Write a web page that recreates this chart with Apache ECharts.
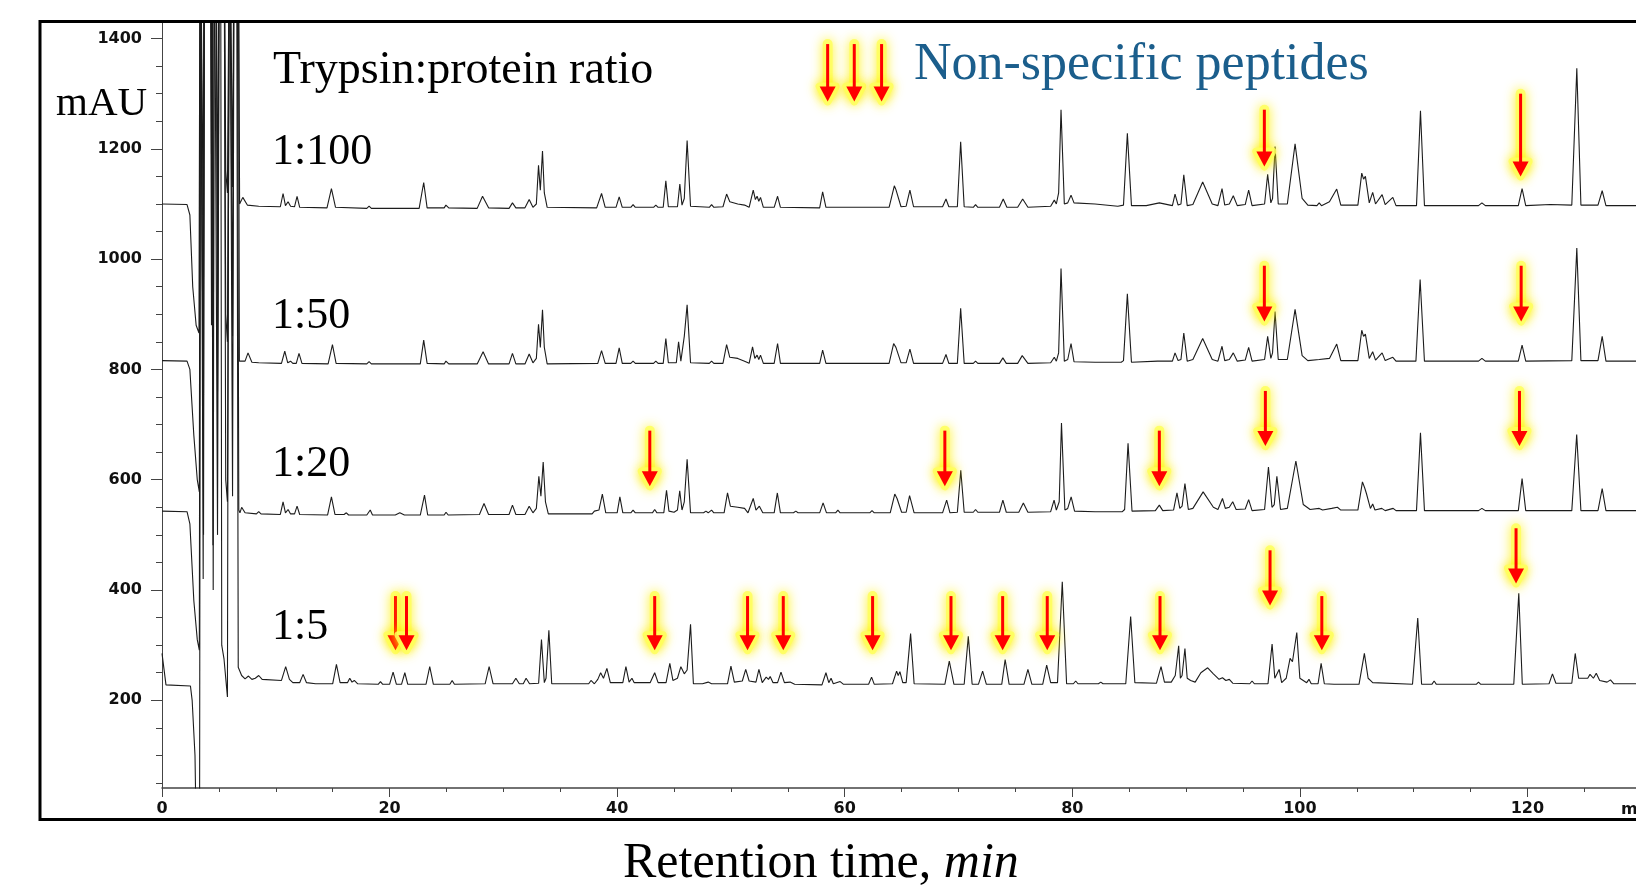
<!DOCTYPE html>
<html><head><meta charset="utf-8">
<script src="https://cdn.jsdelivr.net/npm/echarts@6/dist/echarts.min.js"></script>
<style>html,body{margin:0;padding:0;background:#fff;}#c{width:1636px;height:895px;}</style>
</head><body><div id="c"></div>
<script>
// ---------- data ----------
const seriesNames = ['1:100', '1:50', '1:20', '1:5'];
const yTickValues = [200, 400, 600, 800, 1000, 1200, 1400];
const yMinorTickValues = [50,100,150,200,250,300,350,400,450,500,550,600,650,700,750,800,850,900,950,1000,1050,1100,1150,1200,1250,1300,1350,1400];

const trace1to100 = [[0,1100],[2.2,1099],[2.45,1080],[2.7,950],[3.0,880],[3.25,866],[3.35,1700],[3.5,1700],[3.62,1080],[3.72,1700],[4.25,1700],[4.35,1190],[4.45,1700],[4.75,1700],[4.88,1050],[5.05,1700],[5.45,1700],[5.6,1160],[5.75,1120],[5.95,1700],[6.1,1700],[6.2,1131],[6.35,1700],[6.7,1700],[6.82,1100],[7.1,1112],[7.5,1098],[8.5,1096],[10.4,1095],[10.64,1119],[10.85,1097],[11.08,1104],[11.3,1096],[11.65,1095],[11.87,1114],[12.1,1094],[14.5,1093],[14.89,1128],[15.25,1094],[18.0,1092],[18.2,1096],[18.4,1092],[22.6,1092],[23.0,1139],[23.3,1093],[24.8,1093],[24.95,1098],[25.2,1093],[27.7,1092],[28.17,1114],[28.7,1093],[30.5,1092],[30.8,1102],[31.1,1093],[31.9,1093],[32.27,1108],[32.6,1094],[32.9,1100],[33.09,1170],[33.25,1125],[33.44,1196],[33.6,1120],[33.85,1094],[38.2,1093],[38.63,1119],[38.95,1094],[39.9,1094],[40.18,1113],[40.45,1094],[41.2,1094],[41.4,1099],[41.6,1094],[43.2,1094],[43.4,1098],[43.6,1094],[44.05,1094],[44.28,1142],[44.5,1095],[45.3,1095],[45.51,1136],[45.7,1098],[45.9,1110],[46.15,1215],[46.45,1096],[48.1,1094],[48.3,1099],[48.5,1094],[49.3,1095],[49.62,1118],[49.9,1104],[50.6,1100],[51.2,1098],[51.6,1094],[51.96,1125],[52.15,1108],[52.3,1114],[52.45,1105],[52.6,1112],[52.85,1094],[53.8,1094],[54.1,1114],[54.35,1094],[57.8,1093],[58.06,1122],[58.35,1094],[63.9,1094],[64.36,1133],[64.5,1126],[64.62,1128],[64.95,1095],[65.4,1096],[65.73,1125],[66.05,1095],[68.6,1095],[68.9,1109],[69.15,1095],[69.9,1095],[70.19,1213],[70.5,1095],[71.3,1094],[71.5,1099],[71.7,1094],[73.6,1094],[73.93,1109],[74.25,1094],[75.2,1094],[75.64,1109],[76.1,1094],[78.1,1096],[78.42,1107],[78.6,1100],[78.8,1120],[79.01,1271],[79.3,1100],[79.6,1102],[79.89,1116],[80.15,1102],[82.0,1100],[84.0,1096],[84.5,1098],[84.84,1228],[85.2,1097],[86.5,1097],[87.65,1102],[88.8,1097],[89.03,1118],[89.3,1098],[89.55,1100],[89.8,1153],[90.1,1097],[90.6,1099],[91.46,1140],[92.3,1100],[92.8,1097],[93.16,1128],[93.4,1098],[93.8,1100],[94.15,1115],[94.5,1097],[95.2,1099],[95.5,1125],[95.8,1097],[96.9,1100],[97.17,1154],[97.45,1102],[97.6,1110],[97.82,1204],[98.1,1100],[98.9,1100],[99.58,1209],[100.2,1110],[100.7,1098],[101.5,1097],[101.7,1102],[101.9,1097],[102.6,1104],[103.24,1127],[103.6,1098],[105.1,1098],[105.44,1156],[105.6,1145],[105.76,1150],[106.1,1102],[106.4,1121],[106.65,1100],[107.23,1117],[107.5,1099],[108.17,1112],[108.45,1097],[110.25,1097],[110.6,1269],[110.95,1097],[115.7,1097],[116.0,1102],[116.3,1097],[119.2,1097],[119.53,1128],[119.85,1097],[122.0,1099],[123.9,1098],[124.34,1346],[124.7,1098],[126.2,1098],[126.57,1124],[126.9,1097],[140,1097]];

const trace1to50 = [[0,816],[2.2,815],[2.45,800],[2.8,680],[3.1,600],[3.28,578],[3.38,1700],[3.5,1700],[3.62,700],[3.72,1700],[4.25,1700],[4.35,880],[4.45,1700],[4.75,1700],[4.88,760],[5.05,1700],[5.45,1700],[5.6,900],[5.75,850],[5.95,1700],[6.1,1700],[6.2,860],[6.35,1700],[6.7,1700],[6.8,815],[6.9,812],[7.3,815],[7.56,830],[7.9,813],[8.5,812],[10.5,811],[10.79,833],[11.05,812],[11.3,815],[11.5,811],[11.8,811],[12.04,829],[12.3,811],[14.6,810],[14.98,845],[15.3,811],[18.0,810],[18.2,814],[18.4,810],[22.7,810],[23.0,853],[23.3,811],[24.8,810],[24.95,815],[25.2,810],[27.7,810],[28.22,832],[28.7,810],[30.5,810],[30.8,829],[31.1,810],[31.9,810],[32.27,828],[32.6,812],[32.9,820],[33.09,882],[33.25,840],[33.44,908],[33.6,840],[33.85,810],[38.3,811],[38.63,834],[38.95,811],[39.9,811],[40.18,839],[40.45,811],[41.2,811],[41.4,815],[41.6,811],[43.2,811],[43.4,815],[43.6,811],[44.05,811],[44.28,856],[44.5,812],[45.2,812],[45.4,850],[45.6,815],[45.9,860],[46.15,917],[46.45,812],[48.1,811],[48.3,815],[48.5,811],[49.3,811],[49.62,845],[49.9,822],[50.6,820],[51.2,815],[51.6,811],[51.9,841],[52.1,820],[52.3,826],[52.45,818],[52.6,826],[52.85,811],[53.8,811],[54.1,847],[54.35,811],[57.8,811],[58.06,835],[58.35,811],[63.9,811],[64.3,847],[64.5,840],[64.62,842],[64.95,812],[65.4,812],[65.73,837],[66.05,811],[68.6,811],[68.9,827],[69.15,811],[69.9,811],[70.19,911],[70.5,811],[71.3,811],[71.5,815],[71.7,811],[73.6,811],[73.9,821],[74.2,811],[75.2,811],[75.6,825],[76.1,811],[78.1,812],[78.42,822],[78.6,815],[78.8,830],[79.01,983],[79.3,815],[79.6,818],[79.89,847],[80.15,814],[82,813],[84.3,813],[84.5,816],[84.84,937],[85.2,813],[87.5,815],[87.65,818],[87.8,815],[88.8,815],[89.03,830],[89.3,816],[89.55,818],[89.8,866],[90.1,815],[90.6,818],[91.46,856],[92.3,818],[92.8,815],[93.16,842],[93.4,816],[93.8,818],[94.15,830],[94.5,815],[95.2,817],[95.5,840],[95.8,815],[96.9,818],[97.17,860],[97.45,820],[97.6,830],[97.82,905],[98.1,818],[98.9,818],[99.58,909],[100.2,825],[100.7,816],[101.7,818],[102.6,820],[103.24,846],[103.6,816],[105.1,816],[105.44,871],[105.6,860],[105.76,864],[106.1,820],[106.4,832],[106.65,817],[107.23,830],[107.5,816],[108.17,822],[108.45,815],[110.2,815],[110.57,963],[110.95,815],[115.7,815],[116.0,820],[116.3,815],[119.2,815],[119.53,844],[119.85,815],[123.9,816],[124.34,1020],[124.7,816],[126.2,816],[126.57,860],[126.9,815],[140,815]];

const trace1to20 = [[0,543],[2.2,542],[2.45,520],[2.8,380],[3.1,310],[3.28,291],[3.38,1700],[3.5,1700],[3.62,420],[3.72,1700],[4.35,1700],[4.48,481],[4.6,1700],[4.75,1700],[4.88,500],[5.05,1700],[5.45,1700],[5.6,600],[5.75,560],[5.95,1700],[6.1,1700],[6.2,570],[6.35,1700],[6.6,1700],[6.75,545],[6.85,540],[7.0,550],[7.3,540],[8.3,538],[8.5,542],[8.7,538],[10.4,537],[10.64,560],[10.85,540],[11.08,546],[11.3,538],[11.65,538],[11.87,552],[12.1,537],[14.55,536],[14.89,569],[15.2,537],[16.0,537],[16.2,540],[16.4,536],[18.0,536],[18.3,545],[18.5,536],[20.5,536],[20.9,540],[21.3,536],[22.7,536],[23.07,572],[23.35,536],[24.8,536],[24.96,541],[25.15,536],[27.9,537],[28.3,557],[28.7,537],[30.5,537],[30.8,554],[31.1,537],[31.9,537],[32.27,552],[32.6,540],[32.9,548],[33.12,606],[33.3,570],[33.5,632],[33.7,560],[33.95,538],[37.8,538],[38.0,543],[38.4,545],[38.7,574],[39.0,540],[40.0,540],[40.24,569],[40.5,540],[41.2,540],[41.4,545],[41.6,540],[43.1,540],[43.3,546],[43.5,540],[44.1,540],[44.34,581],[44.55,543],[45.0,541],[45.3,545],[45.5,580],[45.7,545],[45.9,560],[46.15,637],[46.45,540],[47.6,540],[47.8,543],[48.0,540],[48.3,545],[48.5,540],[49.4,540],[49.7,576],[49.95,552],[50.6,550],[51.2,548],[51.5,540],[51.96,566],[52.2,545],[52.5,552],[52.8,540],[53.8,540],[54.08,576],[54.35,540],[55.5,540],[55.7,543],[55.9,540],[57.8,540],[58.1,558],[58.4,540],[59.2,540],[59.4,545],[59.6,540],[62.2,540],[62.4,544],[62.6,540],[64.0,540],[64.4,574],[64.6,566],[64.75,568],[65.0,541],[65.4,541],[65.7,571],[66.1,540],[68.6,540],[68.96,563],[69.25,540],[69.9,541],[70.2,617],[70.5,541],[71.3,541],[71.5,546],[71.7,541],[73.6,541],[73.9,563],[74.2,541],[75.3,541],[75.7,558],[76.1,541],[78.1,542],[78.4,563],[78.6,545],[78.85,560],[79.05,703],[79.35,545],[79.6,548],[79.9,569],[80.2,543],[82,542],[84.4,542],[84.6,546],[84.9,666],[85.25,543],[87.3,544],[87.65,554],[87.95,544],[88.9,545],[89.2,576],[89.45,548],[89.65,552],[89.9,593],[90.2,546],[90.6,548],[91.5,578],[92.4,550],[92.8,546],[93.2,566],[93.45,548],[93.8,550],[94.1,560],[94.4,546],[95.2,547],[95.5,564],[95.8,544],[96.9,546],[97.24,623],[97.55,550],[97.75,555],[97.98,606],[98.3,546],[98.9,548],[99.65,634],[100.3,555],[100.9,546],[101.7,548],[102.0,545],[102.8,548],[103.3,550],[103.6,545],[105.1,545],[105.5,596],[105.7,585],[105.85,575],[106.2,548],[106.4,556],[106.6,545],[107.2,548],[107.5,544],[108.2,548],[108.45,544],[110.25,544],[110.6,685],[110.95,544],[115.7,544],[116.0,548],[116.3,544],[119.2,544],[119.53,602],[119.85,544],[123.9,544],[124.33,682],[124.7,544],[126.2,544],[126.57,584],[126.9,544],[140,544]];

const trace1to5 = [[0,285],[0.35,228],[2.5,226],[2.65,200],[2.9,100],[3.05,-100],[3.3,-100],[3.4,1700],[3.55,1700],[3.65,500],[3.75,1700],[4.4,1700],[4.5,400],[4.6,1700],[5.15,1700],[5.25,300],[5.45,275],[5.75,206],[5.9,1700],[6.05,1700],[6.55,1700],[6.7,260],[7.0,245],[7.3,239],[7.6,244],[7.9,238],[8.2,240],[8.5,245],[8.8,238],[10.5,236],[10.87,261],[11.2,238],[11.5,232],[12.1,232],[12.4,247],[12.7,232],[13.5,230],[15.0,230],[15.33,265],[15.65,232],[16.3,232],[16.5,240],[16.7,233],[16.9,236],[17.2,230],[19.0,229],[19.2,234],[19.4,229],[20.0,229],[20.31,251],[20.6,229],[21.05,229],[21.34,250],[21.6,229],[23.2,229],[23.53,261],[23.85,229],[25.3,229],[25.5,236],[25.7,229],[28.4,230],[28.75,261],[29.1,230],[30.8,230],[31.1,240],[31.4,230],[31.75,230],[32.0,240],[32.3,230],[33.1,231],[33.35,310],[33.6,232],[33.75,240],[34.0,327],[34.25,230],[37.5,230],[37.7,236],[38.0,230],[38.3,238],[38.55,250],[38.8,240],[39.1,258],[39.4,232],[40.5,232],[40.77,261],[41.05,233],[41.3,240],[41.5,232],[42.9,232],[43.3,250],[43.6,232],[44.3,232],[44.63,267],[44.9,236],[45.3,240],[45.6,261],[45.9,248],[46.15,255],[46.45,338],[46.7,230],[47.5,230],[48.0,233],[48.3,230],[49.7,230],[50.0,262],[50.3,233],[51.0,235],[51.3,256],[51.6,235],[52.2,233],[52.46,256],[52.75,232],[53.1,242],[53.3,238],[53.45,243],[53.7,232],[54.1,232],[54.4,251],[54.7,232],[55.2,233],[55.6,229],[58.0,228],[58.35,250],[58.6,232],[58.8,240],[59.0,230],[59.6,234],[59.9,229],[62.1,229],[62.36,242],[62.6,229],[64.2,230],[64.56,253],[64.7,245],[64.85,252],[65.1,232],[65.4,232],[65.79,321],[66.1,230],[68.8,229],[69.19,271],[69.6,229],[70.5,229],[70.86,316],[71.2,229],[71.75,229],[72.12,253],[72.45,229],[73.8,229],[74.1,274],[74.45,229],[75.75,229],[76.1,256],[76.45,229],[77.4,229],[77.75,264],[78.1,232],[78.7,232],[79.12,415],[79.5,230],[80.1,230],[80.3,235],[80.5,230],[82.3,230],[82.5,233],[82.7,230],[84.7,230],[85.13,352],[85.5,232],[87.4,231],[87.8,261],[88.1,233],[88.7,233],[89.05,245],[89.35,299],[89.5,240],[89.65,245],[89.9,294],[90.1,240],[90.4,236],[90.8,233],[91.3,250],[91.9,259],[92.4,248],[92.9,238],[93.2,241],[93.5,236],[93.8,238],[94.1,231],[95.6,230],[95.8,235],[96.0,230],[97.2,230],[97.56,302],[97.8,240],[98.18,256],[98.4,232],[98.8,240],[99.14,276],[99.35,270],[99.73,323],[100.0,240],[100.6,232],[100.8,238],[101.0,230],[101.6,230],[101.87,267],[102.15,230],[103.0,229],[105.2,229],[105.67,285],[106.0,240],[106.2,236],[106.4,232],[109.9,229],[110.36,349],[110.7,229],[111.6,229],[111.8,235],[112.0,229],[115.5,229],[115.7,233],[115.9,229],[118.8,229],[119.24,394],[119.55,229],[121.9,230],[122.2,248],[122.5,231],[123.9,231],[124.2,285],[124.5,240],[125.3,240],[125.5,247],[125.8,240],[126.05,249],[126.35,236],[127.0,233],[127.3,237],[127.6,230],[140,230]];

// arrows: [time, value at top of shaft, value at arrow tip]
const legendArrows = [[58.5,1390,1286],[60.84,1390,1286],[63.24,1390,1286]];
const arrows1to100 = [[96.88,1271,1168],[119.4,1300,1150]];
const arrows1to50 = [[96.88,988,887],[119.45,988,887]];
const arrows1to20 = [[42.87,689,588],[68.8,689,588],[87.65,689,588],[96.97,761,661],[119.3,761,661]];
const arrows1to5 = [[20.52,389,291],[21.49,389,291],[43.3,389,291],[51.46,389,291],[54.6,389,291],[62.45,389,291],[69.34,389,291],[73.88,389,291],[77.8,389,291],[87.71,389,291],[97.38,472,372],[101.93,389,291],[119.0,512,412]];

// ---------- chart ----------
const chart = echarts.init(document.getElementById('c'), null, {renderer: 'canvas'});
const traces = [trace1to100, trace1to50, trace1to20, trace1to5];
const allArrows = legendArrows.concat(arrows1to100, arrows1to50, arrows1to20, arrows1to5);

function arrowItem(params, api) {
  const t = api.value(0);
  const top = api.coord([t, api.value(1)]);
  const tip = api.coord([t, api.value(2)]);
  const hw = 8, hh = 15, x = tip[0];
  const shaft = {x1: x, y1: top[1], x2: x, y2: tip[1] - hh + 2};
  const head = [[x - hw, tip[1] - hh], [x + hw, tip[1] - hh], [x, tip[1]]];
  const glowC = 'rgba(255,255,90,0.85)';
  return {type: 'group', children: [
    {type: 'line', shape: shaft, style: {stroke: glowC, lineWidth: 10, lineCap: 'round', shadowBlur: 12, shadowColor: 'rgba(255,240,0,1)'}},
    {type: 'polygon', shape: {points: head}, style: {fill: glowC, stroke: glowC, lineWidth: 8, lineJoin: 'round', shadowBlur: 12, shadowColor: 'rgba(255,240,0,1)'}},
    {type: 'line', shape: shaft, style: {stroke: '#ff0000', lineWidth: 3}},
    {type: 'polygon', shape: {points: head}, style: {fill: '#ff0000'}}
  ]};
}

const lineSeries = traces.map((d, i) => ({
  name: seriesNames[i], type: 'line', data: d, showSymbol: false, symbol: 'none',
  lineStyle: {color: '#1c1c1c', width: 1.1}, clip: true, silent: true, z: 2
}));

const serif = '"Liberation Serif", "DejaVu Serif", serif';
const tickFont = {fontFamily: '"DejaVu Sans", sans-serif', fontSize: 16, fontWeight: 'bold', color: '#111'};
chart.setOption({
  animation: false,
  backgroundColor: '#fff',
  grid: {left: 162, top: 22, right: -119, bottom: 107, containLabel: false, outerBoundsMode: 'none'},
  xAxis: {
    type: 'value', min: 0, max: 140, interval: 20,
    axisLine: {show: true, onZero: false, lineStyle: {color: '#444', width: 1.5}},
    axisTick: {show: true, length: 9, lineStyle: {color: '#444'}},
    minorTick: {show: true, splitNumber: 4, length: 4, lineStyle: {color: '#444'}},
    splitLine: {show: false},
    axisLabel: Object.assign({margin: 13, formatter: v => String(v)}, tickFont)
  },
  yAxis: [{
    type: 'value', min: 41, max: 1430, position: 'left',
    axisLine: {show: true, lineStyle: {color: '#444', width: 1}},
    axisTick: {show: true, length: 11, customValues: yTickValues, lineStyle: {color: '#444'}},
    splitLine: {show: false},
    axisLabel: Object.assign({customValues: yTickValues, margin: 20, formatter: v => String(v)}, tickFont)
  }, {
    type: 'value', min: 41, max: 1430, position: 'left',
    axisLine: {show: false},
    axisTick: {show: true, length: 6, customValues: yMinorTickValues, lineStyle: {color: '#444'}},
    splitLine: {show: false},
    axisLabel: {show: false}
  }],
  series: lineSeries.concat([{
    type: 'custom', name: 'arrows', renderItem: arrowItem, data: allArrows,
    encode: {x: 0, y: [1, 2]}, z: 5, silent: true
  }]),
  graphic: [
    {type: 'rect', shape: {x: 40, y: 21.5, width: 1700, height: 798}, style: {fill: 'none', stroke: '#000', lineWidth: 3}, silent: true, z: 10},
    {type: 'text', x: 56, y: 104, style: {text: 'mAU', font: '41px ' + serif, fill: '#000', verticalAlign: 'middle'}},
    {type: 'text', x: 273, y: 71, style: {text: 'Trypsin:protein ratio', font: '46px ' + serif, fill: '#000', verticalAlign: 'middle'}},
    {type: 'text', x: 272, y: 152, style: {text: '1:100', font: '44px ' + serif, fill: '#000', verticalAlign: 'middle'}},
    {type: 'text', x: 272, y: 316, style: {text: '1:50', font: '44px ' + serif, fill: '#000', verticalAlign: 'middle'}},
    {type: 'text', x: 272, y: 464, style: {text: '1:20', font: '44px ' + serif, fill: '#000', verticalAlign: 'middle'}},
    {type: 'text', x: 272, y: 627, style: {text: '1:5', font: '44px ' + serif, fill: '#000', verticalAlign: 'middle'}},
    {type: 'text', x: 914, y: 65, style: {text: 'Non-specific peptides', font: '52px ' + serif, fill: '#1b5e8c', verticalAlign: 'middle'}},
    {type: 'text', x: 1621, y: 810, style: {text: 'min', font: 'bold 16px "DejaVu Sans"', fill: '#111', verticalAlign: 'middle'}},
    {type: 'text', x: 623, y: 864, style: {
      text: '{a|Retention time, }{b|min}', verticalAlign: 'middle',
      rich: {a: {font: '50px ' + serif, fill: '#000'}, b: {font: 'italic 50px ' + serif, fill: '#000'}}
    }}
  ]
});
</script>
</body></html>
